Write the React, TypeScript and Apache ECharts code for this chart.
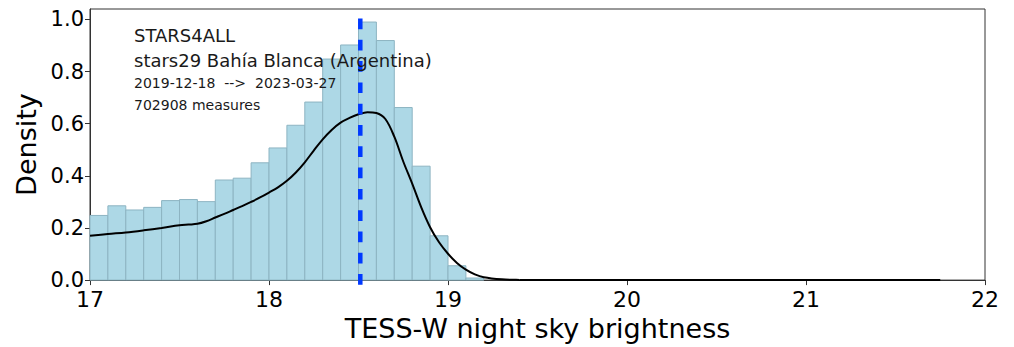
import React, { useEffect, useRef } from "react";
import * as echarts from "echarts";

// Histogram bins (left edges) and densities
const binStarts = [17.0, 17.1, 17.2, 17.3, 17.4, 17.5, 17.6, 17.7, 17.8, 17.9, 18.0, 18.1, 18.2, 18.3, 18.4, 18.5, 18.6, 18.7, 18.8, 18.9, 19.0, 19.1];
const binDensity = [0.248, 0.285, 0.269, 0.279, 0.305, 0.309, 0.301, 0.384, 0.391, 0.45, 0.507, 0.594, 0.683, 0.848, 0.902, 0.99, 0.919, 0.662, 0.437, 0.17, 0.055, 0.008];
const binWidth = 0.1;

// KDE curve
const kdeX = [17.0, 17.1, 17.2, 17.3, 17.4, 17.5, 17.55, 17.6, 17.65, 17.7, 17.75, 17.8, 17.85, 17.9, 17.95, 18.0, 18.05, 18.1, 18.15, 18.2, 18.25, 18.3, 18.35, 18.4, 18.45, 18.5, 18.55, 18.6, 18.65, 18.7, 18.75, 18.8, 18.85, 18.9, 18.95, 19.0, 19.05, 19.1, 19.15, 19.2, 19.3, 19.4, 19.5, 20.0, 20.5, 21.0, 21.5, 21.75];
const kdeY = [0.17, 0.177, 0.183, 0.191, 0.2, 0.21, 0.213, 0.216, 0.226, 0.24, 0.254, 0.269, 0.284, 0.3, 0.317, 0.336, 0.356, 0.381, 0.413, 0.452, 0.497, 0.54, 0.576, 0.604, 0.622, 0.636, 0.644, 0.641, 0.618, 0.55, 0.455, 0.37, 0.28, 0.203, 0.145, 0.101, 0.066, 0.04, 0.022, 0.011, 0.003, 0.0006, 0, 0, 0, 0, 0, 0];

// Median marker
const medianValue = 18.51;

const xTicks = [17, 18, 19, 20, 21, 22];
const yTicks = [0.0, 0.2, 0.4, 0.6, 0.8, 1.0];

const annotation = [
  "STARS4ALL",
  "stars29 Bahía Blanca (Argentina)",
  "2019-12-18  -->  2023-03-27",
  "702908 measures",
];

const FONT = "DejaVu Sans";

export default function App() {
  const ref = useRef<HTMLDivElement>(null);
  useEffect(() => {
    if (!ref.current) return;
    const chart = echarts.init(ref.current, null, { renderer: "svg" });
    const barData = binStarts.map((s, i) => [s, s + binWidth, binDensity[i]]);
    const kdeData = kdeX.map((x, i) => [x, kdeY[i]]);
    const isTick = (v: number, arr: number[]) => arr.some((t) => Math.abs(t - v) < 1e-6);
    const txt = (text: string, y: number, size: number) => ({
      type: "text",
      x: 134,
      y,
      z: 10,
      style: {
        text,
        fontFamily: FONT,
        fontSize: size,
        fill: "#1a1a1a",
        verticalAlign: "middle",
        align: "left",
      },
    });
    chart.setOption({
      animation: false,
      backgroundColor: "#ffffff",
      grid: {
        left: 90,
        right: 29,
        top: 9,
        bottom: 61,
        show: true,
        borderColor: "#333333",
        borderWidth: 1,
        backgroundColor: "transparent",
      },
      xAxis: {
        type: "value",
        min: 17,
        max: 22,
        interval: 1,
        name: "TESS-W night sky brightness",
        nameLocation: "middle",
        nameGap: 33,
        nameTextStyle: { fontFamily: FONT, fontSize: 27, color: "#000" },
        axisLine: { show: true, lineStyle: { color: "#333", width: 1 } },
        axisTick: { show: true, length: 5, lineStyle: { color: "#333" } },
        axisLabel: {
          fontFamily: FONT,
          fontSize: 22,
          color: "#000",
          margin: 8,
          formatter: (v: number) => (isTick(v, xTicks) ? String(Math.round(v)) : ""),
        },
        splitLine: { show: false },
      },
      yAxis: {
        type: "value",
        min: 0,
        max: 1.04,
        interval: 0.2,
        name: "Density",
        nameLocation: "middle",
        nameGap: 44,
        nameRotate: 90,
        nameTextStyle: { fontFamily: FONT, fontSize: 27, color: "#000" },
        axisLine: { show: true, lineStyle: { color: "#333", width: 1 } },
        axisTick: { show: true, length: 5, lineStyle: { color: "#333" } },
        axisLabel: {
          fontFamily: FONT,
          fontSize: 21,
          color: "#000",
          margin: 6,
          showMaxLabel: false,
          formatter: (v: number) => (isTick(v, yTicks) ? v.toFixed(1) : ""),
        },
        splitLine: { show: false },
      },
      series: [
        {
          type: "custom",
          data: barData,
          encode: { x: [0, 1], y: 2 },
          z: 1,
          renderItem: (params: any, api: any) => {
            const x0 = api.value(0);
            const x1 = api.value(1);
            const h = api.value(2);
            const p0 = api.coord([x0, h]);
            const p1 = api.coord([x1, 0]);
            return {
              type: "rect",
              shape: { x: p0[0], y: p0[1], width: p1[0] - p0[0], height: p1[1] - p0[1] },
              style: { fill: "#add8e6", stroke: "#8db4c2", lineWidth: 1 },
            };
          },
        },
        {
          type: "line",
          data: kdeData,
          smooth: 0.35,
          showSymbol: false,
          symbol: "none",
          z: 3,
          lineStyle: { color: "#000000", width: 2 },
        },
        {
          type: "line",
          data: [
            [medianValue, -0.018],
            [medianValue, 1.04],
          ],
          showSymbol: false,
          symbol: "none",
          clip: false,
          z: 4,
          lineStyle: { color: "#0039ff", width: 4.5, type: [10.7, 10.6] },
        },
      ],
      graphic: [
        txt(annotation[0], 35.5, 18),
        txt(annotation[1], 60.3, 18),
        txt(annotation[2], 82.5, 14),
        txt(annotation[3], 105.2, 14),
      ],
    });
    return () => chart.dispose();
  }, []);
  return (
    <div
      ref={ref}
      style={{ position: "fixed", left: 0, top: 0, width: 1014, height: 347, background: "#fff" }}
    />
  );
}
